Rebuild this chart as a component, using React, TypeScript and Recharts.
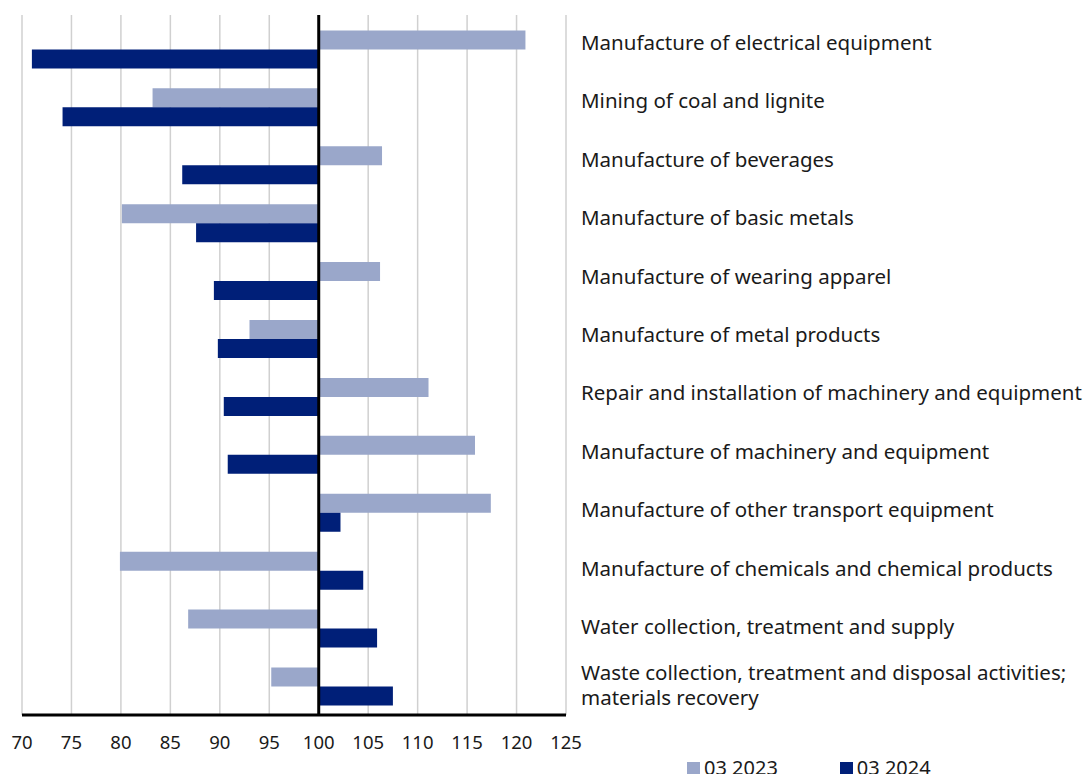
import React from 'react';
import { BarChart, Bar, XAxis, YAxis, CartesianGrid, ReferenceLine } from 'recharts';

const categories = [
    'Manufacture of electrical equipment',
    'Mining of coal and lignite',
    'Manufacture of beverages',
    'Manufacture of basic metals',
    'Manufacture of wearing apparel',
    'Manufacture of metal products',
    'Repair and installation of machinery and equipment',
    'Manufacture of machinery and equipment',
    'Manufacture of other transport equipment',
    'Manufacture of chemicals and chemical products',
    'Water collection, treatment and supply',
    'Waste collection, treatment and disposal activities;\nmaterials recovery',
];

const values2023 = [120.9, 83.2, 106.4, 80.1, 106.2, 93.0, 111.1, 115.8, 117.4, 79.9, 86.8, 95.2];
const values2024 = [71.0, 74.1, 86.2, 87.6, 89.4, 89.8, 90.4, 90.8, 102.2, 104.5, 105.9, 107.5];

const xTicks = [70, 75, 80, 85, 90, 95, 100, 105, 110, 115, 120, 125];

const BASE = 100;
const LIGHT = '#9aa7ca';
const DARK = '#001f78';
const FONT = '"Noto Sans", sans-serif';

const chartData = categories.map((name, i) => ({
    name,
    v2023: values2023[i],
    v2024: values2024[i],
}));

// category labels sit a touch above the bar pairs, like in the original
const CategoryTick = ({ y, payload, index }: any) => {
    const lines = String(payload.value).split('\n');
    const lineHeight = 25;
    const cy = y - 7 + 0.5 * index;
    const startY = cy - ((lines.length - 1) * lineHeight) / 2;
    return (
        <text x={581} y={startY} fill="#1a1a1a" fontSize={20.5} fontFamily={FONT} dominantBaseline="central">
            {lines.map((line, i) => (
                <tspan key={i} x={581} y={startY + i * lineHeight}>{line}</tspan>
            ))}
        </text>
    );
};

// grid lines poke a few px above the plot area
const GridLine = (props: any) => (
    <line x1={props.x1} x2={props.x2} y1={props.y1 - 5} y2={props.y2} stroke="#d0d0d0" strokeWidth={1.5} />
);

const App: React.FC = () => {
    return (
        <div style={{ position: 'absolute', left: 0, top: 0, width: 1092, height: 774, background: '#fff', overflow: 'hidden' }}>
            <BarChart
                width={1092}
                height={774}
                data={chartData}
                layout="vertical"
                margin={{ top: 20, right: 0, left: 22, bottom: 29 }}
                barCategoryGap="18%"
                barGap={0}
            >
                <CartesianGrid horizontal={false} vertical={GridLine} />
                <XAxis
                    type="number"
                    domain={[70, 125]}
                    ticks={xTicks}
                    allowDataOverflow
                    height={30}
                    axisLine={{ stroke: '#000', strokeWidth: 3 }}
                    tickLine={false}
                    tickMargin={15}
                    tick={{ fill: '#1a1a1a', fontSize: 18.5, fontFamily: FONT }}
                />
                <YAxis
                    type="category"
                    dataKey="name"
                    orientation="right"
                    width={526}
                    axisLine={false}
                    tickLine={false}
                    interval={0}
                    tick={<CategoryTick />}
                />
                <Bar dataKey={(d: any) => [BASE, d.v2023]} name="03 2023" fill={LIGHT} isAnimationActive={false} />
                <Bar dataKey={(d: any) => [BASE, d.v2024]} name="03 2024" fill={DARK} isAnimationActive={false} />
                <ReferenceLine
                    x={BASE}
                    shape={(p: any) => <line x1={p.x1} x2={p.x2} y1={Math.min(p.y1, p.y2) - 5} y2={Math.max(p.y1, p.y2)} stroke="#000" strokeWidth={3} />}
                />
            </BarChart>
            <div
                style={{
                    position: 'absolute',
                    left: 687,
                    top: 754,
                    display: 'flex',
                    gap: 62,
                    fontFamily: FONT,
                    fontSize: 20,
                    lineHeight: '28px',
                    color: '#1a1a1a',
                }}
            >
                <div style={{ display: 'flex', alignItems: 'center', gap: 4 }}>
                    <span style={{ width: 13, height: 13, background: LIGHT, display: 'inline-block' }} />
                    <span>03 2023</span>
                </div>
                <div style={{ display: 'flex', alignItems: 'center', gap: 4 }}>
                    <span style={{ width: 13, height: 13, background: DARK, display: 'inline-block' }} />
                    <span>03 2024</span>
                </div>
            </div>
        </div>
    );
};

export default App;
